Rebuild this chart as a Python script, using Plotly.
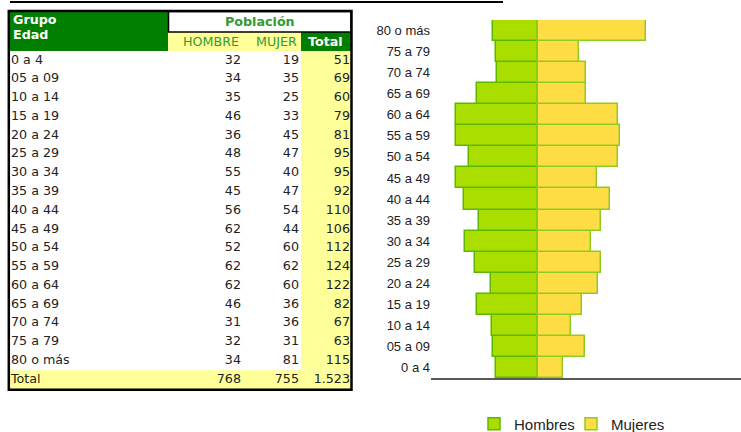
import plotly.graph_objects as go

# ---------------- data ----------------
age_groups = ["0 a 4", "05 a 09", "10 a 14", "15 a 19", "20 a 24", "25 a 29",
              "30 a 34", "35 a 39", "40 a 44", "45 a 49", "50 a 54", "55 a 59",
              "60 a 64", "65 a 69", "70 a 74", "75 a 79", "80 o más"]
hombres = [32, 34, 35, 46, 36, 48, 55, 45, 56, 62, 52, 62, 62, 46, 31, 32, 34]
mujeres = [19, 35, 25, 33, 45, 47, 40, 47, 54, 44, 60, 62, 60, 36, 36, 31, 81]
totales = [51, 69, 60, 79, 81, 95, 95, 92, 110, 106, 112, 124, 122, 82, 67, 63, 115]
total_label = "Total"
total_values = [768, 755, 1523]
header_group = ["Grupo", "Edad"]
header_pop = "Población"
header_cols = ["HOMBRE", "MUJER", "Total"]
series_names = ["Hombres", "Mujeres"]

W, H = 741, 432


def fmt(n):
    return f"{n:,}".replace(",", ".")


def py(ypx):
    return 1 - ypx / H


# ---------------- styles ----------------
TFONT = "DejaVu Sans, Verdana, sans-serif"
TSIZE = 12.7
TCOL = "#222222"
GREEN_DARK = "#007F00"
GREEN_TXT = "#339933"
YELLOW = "#FFFF99"

fig = go.Figure()

# ---------------- pyramid ----------------
fig.add_trace(go.Bar(
    y=age_groups, x=[-v for v in hombres], customdata=hombres, orientation="h",
    name=series_names[0], marker=dict(color="#AADD00", line=dict(color="#5DB800", width=1.5)),
    hovertemplate="%{y}: %{customdata}<extra>Hombres</extra>",
    xaxis="x", yaxis="y"))
fig.add_trace(go.Bar(
    y=age_groups, x=mujeres, orientation="h",
    name=series_names[1], marker=dict(color="#FFDD44", line=dict(color="#8FCC22", width=1.5)),
    hovertemplate="%{y}: %{x}<extra>Mujeres</extra>",
    xaxis="x", yaxis="y"))

# ---------------- table (text traces on own axes) ----------------
rows = age_groups + [total_label]
col_h = [str(v) for v in hombres] + [fmt(total_values[0])]
col_m = [str(v) for v in mujeres] + [fmt(total_values[1])]
col_t = [str(v) for v in totales] + [fmt(total_values[2])]

common = dict(mode="text", xaxis="x2", yaxis="y2", showlegend=False,
              hoverinfo="skip", cliponaxis=False,
              textfont=dict(family=TFONT, size=TSIZE, color=TCOL))
fig.add_trace(go.Scatter(x=[11] * len(rows), y=rows, text=rows, textposition="middle right", **common))
fig.add_trace(go.Scatter(x=[241] * len(rows), y=rows, text=col_h, textposition="middle left", **common))
fig.add_trace(go.Scatter(x=[299] * len(rows), y=rows, text=col_m, textposition="middle left", **common))
fig.add_trace(go.Scatter(x=[350] * len(rows), y=rows, text=col_t, textposition="middle left", **common))

shapes = []
# total column background
shapes.append(dict(type="rect", xref="x2", yref="y2", x0=301, x1=351, y0=-0.5, y1=len(age_groups) - 0.5,
                   fillcolor=YELLOW, line=dict(width=0), layer="below"))
# total row background
shapes.append(dict(type="rect", xref="x2", yref="y2", x0=9, x1=351, y0=len(age_groups) - 0.5,
                   y1=len(age_groups) + 0.5, fillcolor=YELLOW, line=dict(width=0), layer="below"))
# header green block
shapes.append(dict(type="rect", xref="x2", yref="paper", x0=9, x1=168, y0=py(51), y1=py(11),
                   fillcolor=GREEN_DARK, line=dict(width=0), layer="below"))
# sub header yellow
shapes.append(dict(type="rect", xref="x2", yref="paper", x0=168, x1=301, y0=py(51), y1=py(32),
                   fillcolor=YELLOW, line=dict(width=0), layer="below"))
# sub header total green
shapes.append(dict(type="rect", xref="x2", yref="paper", x0=301, x1=351, y0=py(51), y1=py(32),
                   fillcolor=GREEN_DARK, line=dict(width=0), layer="below"))
# Población box
shapes.append(dict(type="rect", xref="x2", yref="paper", x0=168.5, x1=351, y0=py(32), y1=py(11.5),
                   fillcolor="white", line=dict(width=1.5, color="black"), layer="below"))
# outer border
shapes.append(dict(type="rect", xref="x2", yref="paper", x0=8.8, x1=351.5, y0=py(389.8), y1=py(11),
                   line=dict(width=2.5, color="black")))
# cropped underline at very top
shapes.append(dict(type="line", xref="paper", yref="paper", x0=10 / W, x1=503 / W, y0=py(2), y1=py(2),
                   line=dict(width=2, color="black")))

annotations = [
    dict(text="<b>%s</b>" % header_group[0], x=11, y=py(20), xref="x2", yref="paper",
         xanchor="left", yanchor="middle", showarrow=False,
         font=dict(family=TFONT, size=TSIZE, color="white")),
    dict(text="<b>%s</b>" % header_group[1], x=11, y=py(35), xref="x2", yref="paper",
         xanchor="left", yanchor="middle", showarrow=False,
         font=dict(family=TFONT, size=TSIZE, color="white")),
    dict(text="<b>%s</b>" % header_pop, x=260, y=py(21.5), xref="x2", yref="paper",
         xanchor="center", yanchor="middle", showarrow=False,
         font=dict(family=TFONT, size=TSIZE, color=GREEN_TXT)),
    dict(text=header_cols[0], x=241, y=py(42), xref="x2", yref="paper",
         xanchor="right", yanchor="middle", showarrow=False,
         font=dict(family=TFONT, size=TSIZE, color=GREEN_TXT)),
    dict(text=header_cols[1], x=299, y=py(42), xref="x2", yref="paper",
         xanchor="right", yanchor="middle", showarrow=False,
         font=dict(family=TFONT, size=TSIZE, color=GREEN_TXT)),
    dict(text="<b>%s</b>" % header_cols[2], x=345, y=py(42), xref="x2", yref="paper",
         xanchor="right", yanchor="middle", showarrow=False,
         font=dict(family=TFONT, size=TSIZE, color="white")),
]

fig.update_layout(
    width=W, height=H,
    margin=dict(l=0, r=0, t=0, b=0, autoexpand=False),
    paper_bgcolor="white", plot_bgcolor="rgba(0,0,0,0)",
    barmode="relative", bargap=0,
    shapes=shapes, annotations=annotations,
    xaxis=dict(domain=[431 / W, 1], range=[-81, 153], showline=True, linecolor="#595959",
               linewidth=2, showticklabels=False, showgrid=False, zeroline=False,
               ticks="", anchor="y", fixedrange=True, automargin=False),
    yaxis=dict(domain=[py(378), py(20)], type="category", categoryorder="array",
               categoryarray=age_groups, showline=False, showgrid=False, zeroline=False,
               ticks="", anchor="x", fixedrange=True, automargin=False,
               tickfont=dict(family="Liberation Sans, Arial, sans-serif", size=13, color="#222222")),
    xaxis2=dict(domain=[0, 360 / W], range=[0, 360], visible=False, anchor="y2", fixedrange=True),
    yaxis2=dict(domain=[py(389), py(51)], type="category", categoryorder="array",
                categoryarray=rows, range=[len(rows) - 0.5, -0.5], visible=False,
                anchor="x2", fixedrange=True),
    legend=dict(orientation="h", x=474 / W, y=py(424), xanchor="left", yanchor="middle",
                font=dict(family="Liberation Sans, Arial, sans-serif", size=15, color="#222222"),
                bgcolor="rgba(0,0,0,0)", itemwidth=30, tracegroupgap=0, entrywidth=52),
    showlegend=True,
)

fig.write_html("out.html", config={"displayModeBar": False},
               post_script="document.body.style.margin='0';document.body.style.overflow='hidden';")
